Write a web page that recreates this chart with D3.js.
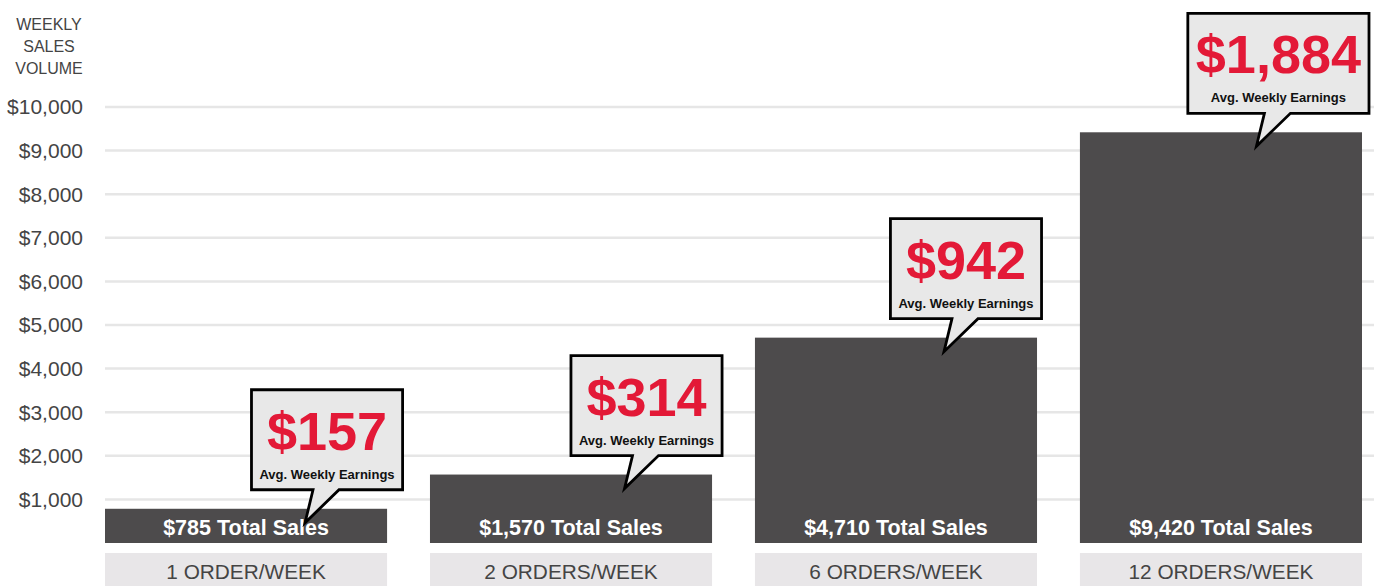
<!DOCTYPE html>
<html>
<head>
<meta charset="utf-8">
<script src="https://cdn.jsdelivr.net/npm/d3@7"></script>
<style>
  html, body { margin: 0; padding: 0; background: #fff; }
  svg { display: block; font-family: "Liberation Sans", Arial, sans-serif; }
</style>
</head>
<body>
<div id="chart"></div>
<script>
// Data
const categories = ["1 ORDER/WEEK", "2 ORDERS/WEEK", "6 ORDERS/WEEK", "12 ORDERS/WEEK"];
const totalSales = [785, 1570, 4710, 9420];
const avgEarnings = [157, 314, 942, 1884];
const yTicks = [1000, 2000, 3000, 4000, 5000, 6000, 7000, 8000, 9000, 10000];
const axisTitle = ["WEEKLY", "SALES", "VOLUME"];

const width = 1374, height = 586;
const BAR = "#4d4b4c", RED = "#e31937", GRID = "#e6e6e6", TXT = "#444";

const data = categories.map((c, i) => ({cat: c, sales: totalSales[i], earn: avgEarnings[i]}));

const x = d3.scaleBand().domain(categories).range([105, 1362]).paddingInner(0.132).paddingOuter(0);
const y = d3.scaleLinear().domain([0, 10000]).range([543, 107]);
const money = d3.format("$,");

const svg = d3.select("#chart").append("svg")
  .attr("width", width).attr("height", height)
  .attr("viewBox", [0, 0, width, height]);

// axis title
svg.append("g").selectAll("text")
  .data(axisTitle)
  .join("text")
  .attr("x", 49).attr("y", (d, i) => 30 + i * 22)
  .attr("text-anchor", "middle")
  .attr("fill", TXT).style("font-size", "16px")
  .text(d => d);

// gridlines + tick labels
svg.append("g").selectAll("line")
  .data(yTicks)
  .join("line")
  .attr("x1", 105).attr("x2", width)
  .attr("y1", d => y(d)).attr("y2", d => y(d))
  .attr("stroke", GRID).attr("stroke-width", 2.5);

svg.append("g").selectAll("text")
  .data(yTicks)
  .join("text")
  .attr("x", 83).attr("y", d => y(d)).attr("dy", "0.35em")
  .attr("text-anchor", "end")
  .attr("fill", TXT).style("font-size", "21px")
  .text(d => money(d));

// bars
svg.append("g").selectAll("rect")
  .data(data)
  .join("rect")
  .attr("x", d => x(d.cat)).attr("width", x.bandwidth())
  .attr("y", d => y(d.sales)).attr("height", d => y(0) - y(d.sales))
  .attr("fill", BAR);

svg.append("g").selectAll("text")
  .data(data)
  .join("text")
  .attr("x", d => x(d.cat) + x.bandwidth() / 2).attr("y", y(0) - 8)
  .attr("text-anchor", "middle")
  .attr("fill", "#fff").style("font-size", "21.5px").style("font-weight", "bold")
  .text(d => `${money(d.sales)} Total Sales`);

// category boxes
const catG = svg.append("g").selectAll("g")
  .data(data)
  .join("g")
  .attr("transform", d => `translate(${x(d.cat)},${y(0) + 10})`);
catG.append("rect")
  .attr("width", x.bandwidth()).attr("height", 33)
  .attr("fill", "#e8e6e8");
catG.append("text")
  .attr("x", x.bandwidth() / 2).attr("y", 26)
  .attr("text-anchor", "middle")
  .attr("fill", TXT).style("font-size", "20.8px")
  .text(d => d.cat);

// callouts (speech bubbles)
const boxH = 100;
data.forEach((d, i) => {
  const g = svg.append("g");
  const big = g.append("text")
    .attr("text-anchor", "middle")
    .attr("fill", RED).style("font-size", "54px").style("font-weight", "bold")
    .text(money(d.earn));
  const small = g.append("text")
    .attr("text-anchor", "middle")
    .attr("fill", "#111").style("font-size", "13px").style("font-weight", "bold")
    .text("Avg. Weekly Earnings");
  const bw = Math.max(big.node().getComputedTextLength(), small.node().getComputedTextLength()) + 16;
  const barTop = y(d.sales);
  let cx = x(d.cat) + x.bandwidth() / 2 + 81 - 5.5 * i;
  if (cx + bw / 2 > width - 5) cx = width - 5 - bw / 2;
  const x0 = cx - bw / 2, x1 = cx + bw / 2;
  const y1 = barTop - 19, y0 = y1 - boxH;
  const tipX = cx - 22, tipY = barTop + 14;
  const path = [
    [x0, y0], [x1, y0], [x1, y1], [tipX + 34, y1], [tipX, tipY], [tipX + 8, y1], [x0, y1]
  ];
  g.insert("path", "text")
    .attr("d", d3.line()(path) + "Z")
    .attr("fill", "#e8e8e8").attr("stroke", "#000")
    .attr("stroke-width", 2.8).attr("stroke-linejoin", "miter");
  big.attr("x", cx).attr("y", y0 + 60);
  small.attr("x", cx).attr("y", y0 + 89);
});
</script>
</body>
</html>
